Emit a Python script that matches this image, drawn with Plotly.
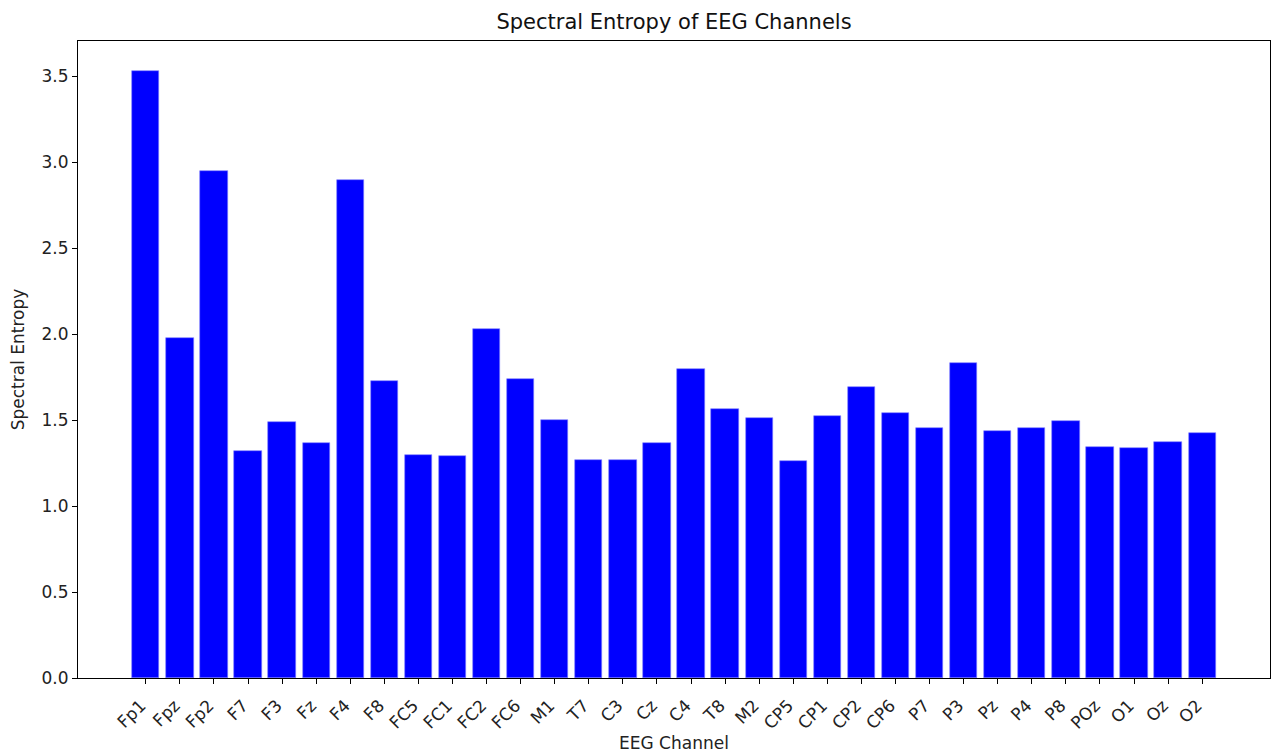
import plotly.graph_objects as go

channels = ["Fp1", "Fpz", "Fp2", "F7", "F3", "Fz", "F4", "F8", "FC5", "FC1", "FC2", "FC6",
            "M1", "T7", "C3", "Cz", "C4", "T8", "M2", "CP5", "CP1", "CP2", "CP6", "P7",
            "P3", "Pz", "P4", "P8", "POz", "O1", "Oz", "O2"]
entropy = [3.53, 1.978, 2.95, 1.321, 1.487, 1.367, 2.90, 1.73, 1.298, 1.29, 2.03, 1.737,
           1.50, 1.268, 1.268, 1.367, 1.80, 1.565, 1.51, 1.26, 1.524, 1.692, 1.54, 1.456,
           1.834, 1.435, 1.456, 1.495, 1.344, 1.338, 1.373, 1.426]
y_ticks = [0.0, 0.5, 1.0, 1.5, 2.0, 2.5, 3.0, 3.5]

n = len(channels)
x = list(range(n))

fig = go.Figure(go.Bar(
    x=x, y=entropy, width=0.8,
    marker=dict(color="#0000ff", line=dict(color="#8080ff", width=0.6)),
))

font_family = "DejaVu Sans"
span = (n - 1) + 0.8
pad = 0.05 * span
fig.update_layout(
    width=1273, height=753,
    margin=dict(l=78, r=3, t=41, b=75, autoexpand=False),
    plot_bgcolor="white", paper_bgcolor="white",
    font=dict(family=font_family, size=17, color="#222222"),
    title=dict(text="Spectral Entropy of EEG Channels", x=(78 + 1270) / 2 / 1273, xanchor="center",
               y=1 - 22 / 753, yanchor="middle", font=dict(size=21, family=font_family, color="#111111")),
    showlegend=False,
    bargap=0,
)
fig.update_xaxes(
    range=[-0.4 - pad, (n - 1) + 0.4 + pad],
    tickmode="array", tickvals=x, ticktext=channels, tickangle=-45,
    ticks="outside", ticklen=5, tickcolor="black", tickwidth=1,
    showline=True, linecolor="black", linewidth=1, mirror=True,
    showgrid=False, zeroline=False,
    tickfont=dict(size=17),
    ticklabelstandoff=5, ticklabelshift=-5,
    automargin=False,
    title=dict(text="EEG Channel", font=dict(size=17), standoff=8),
)
fig.update_yaxes(
    range=[0, max(entropy) * 1.05],
    tickmode="array", tickvals=y_ticks, ticktext=[f"{v:.1f}" for v in y_ticks],
    ticks="outside", ticklen=5, tickcolor="black", tickwidth=1,
    showline=True, linecolor="black", linewidth=1, mirror=True,
    showgrid=False, zeroline=False,
    tickfont=dict(size=17),
    automargin=False,
    title=dict(text="Spectral Entropy", font=dict(size=17), standoff=12),
)

fig.write_html("out.html", config={"displayModeBar": False},
               post_script="document.body.style.margin='0';document.body.style.overflow='hidden';")
